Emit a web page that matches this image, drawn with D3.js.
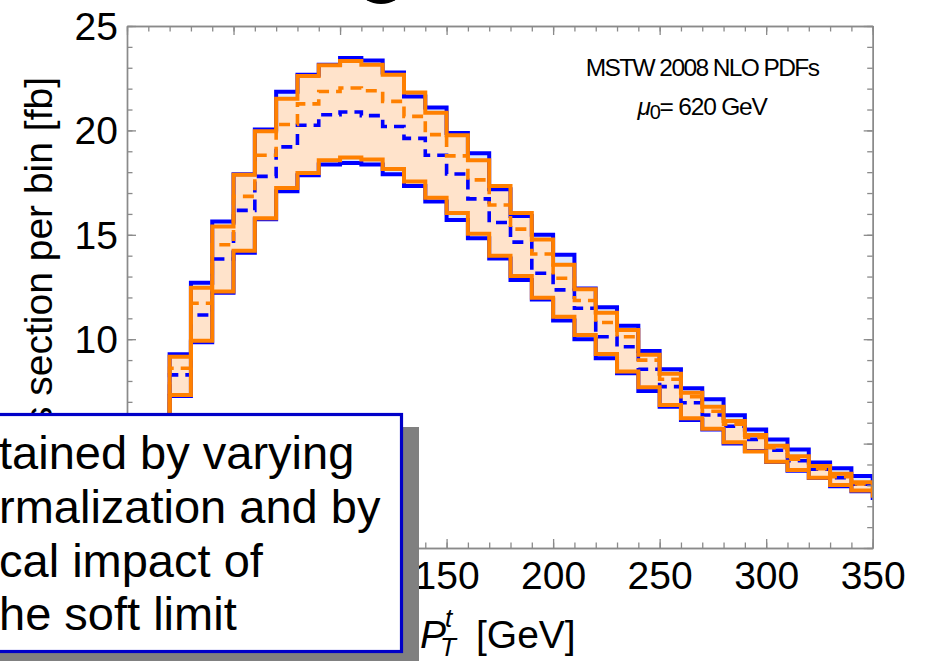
<!DOCTYPE html>
<html>
<head>
<meta charset="utf-8">
<script src="https://cdn.jsdelivr.net/npm/d3@7"></script>
<style>
  body { margin: 0; background: #fff; }
  svg { display: block; font-family: "Liberation Sans", Arial, sans-serif; }
</style>
</head>
<body>
<div id="chart"></div>
<script>
var svgWidth = 929;
var svgHeight = 661;

// plot frame in page pixels
var frame = { left: 127, right: 872.7, top: 26, bottom: 548 };

// lower bin edges [GeV], 10 GeV wide
var binEdges = d3.range(0, 360, 10);

// blue band (upper / central / lower)
var blueUpper = [1.9, 5.6, 9.28, 12.7, 15.64, 17.9, 20.04, 21.85, 22.67, 23.15, 23.47, 23.35, 22.77, 21.62, 21.1, 19.88, 18.91, 17.18,
    15.9, 15.0, 14.04, 12.43, 11.53, 10.64, 9.44, 8.56, 7.65, 7.12, 6.36, 5.67, 5.2, 4.72, 4.09, 3.82, 3.45, 3.1];
var blueCentral = [1.6, 5.0, 8.29, 11.16, 13.84, 16.17, 17.8, 19.21, 20.25, 20.75, 20.88, 20.71, 20.19, 19.62, 18.81, 17.91, 16.72, 15.59,
    14.65, 13.16, 12.36, 11.48, 10.12, 9.64, 8.56, 7.73, 6.96, 6.37, 5.83, 5.2, 4.68, 4.18, 3.77, 3.37, 3.05, 2.7];
var blueLower = [1.4, 4.7, 7.28, 9.85, 12.22, 14.14, 15.75, 17.08, 17.85, 18.37, 18.44, 18.37, 17.9, 17.34, 16.6, 15.71, 14.84, 13.86,
    12.84, 11.9, 10.89, 10.0, 9.09, 8.37, 7.52, 6.77, 6.13, 5.68, 5.0, 4.65, 4.12, 3.7, 3.35, 2.96, 2.72, 2.4];

// orange band (upper / central / lower)
var orangeUpper = [1.8, 5.5, 9.16, 12.47, 15.4, 17.88, 19.96, 21.52, 22.6, 23.12, 23.32, 23.14, 22.66, 21.81, 20.85, 19.77, 18.57, 17.34,
    16.04, 14.78, 13.56, 12.39, 11.27, 10.44, 9.25, 8.34, 7.44, 6.76, 6.08, 5.41, 4.9, 4.4, 3.93, 3.56, 3.15, 2.9];
var orangeCentral = [1.7, 5.2, 8.61, 11.72, 14.52, 16.84, 18.81, 20.28, 21.27, 21.86, 22.03, 21.9, 21.39, 20.67, 19.8, 18.78, 17.63, 16.43,
    15.27, 14.08, 12.92, 11.85, 10.8, 10.12, 9.0, 8.08, 7.25, 6.55, 5.93, 5.3, 4.8, 4.25, 3.8, 3.42, 3.07, 2.75];
var orangeLower = [1.5, 4.8, 7.33, 9.93, 12.29, 14.24, 15.79, 17.24, 17.96, 18.57, 18.7, 18.61, 18.15, 17.55, 16.78, 16.05, 15.05, 14.0,
    13.03, 11.98, 11.08, 10.2, 9.29, 8.45, 7.7, 6.85, 6.21, 5.71, 5.06, 4.62, 4.13, 3.74, 3.37, 3.02, 2.75, 2.5];

var xMajorTicks = [0, 50, 100, 150, 200, 250, 300, 350];
var xTickLabels = [150, 200, 250, 300, 350];   // the rest sit under the note box
var yMajorTicks = [0, 5, 10, 15, 20, 25];
var yTickLabels = [10, 15, 20, 25];

var noteLines = ["tained by varying", "rmalization and by", "cal impact of", "he soft limit"];

var svg = d3.select("#chart")
    .append("svg")
    .attr("width", svgWidth)
    .attr("height", svgHeight);

var xScale = d3.scaleLinear().domain([0, 350]).range([frame.left, frame.right]);
var yScale = d3.scaleLinear().domain([0, 25]).range([frame.bottom, frame.top]);

svg.append("clipPath").attr("id", "plotClip")
    .append("rect")
    .attr("x", frame.left).attr("y", frame.top)
    .attr("width", frame.right - frame.left)
    .attr("height", frame.bottom - frame.top);

// step points: one per lower edge plus closing point at last upper edge
function steps(vals) {
    var pts = binEdges.map((e, i) => [e, vals[i]]);
    pts.push([binEdges[binEdges.length - 1] + 10, vals[vals.length - 1]]);
    return pts;
}
function bandPts(lo, hi) {
    var pts = binEdges.map((e, i) => ({ x: e, lo: lo[i], hi: hi[i] }));
    pts.push({ x: binEdges[binEdges.length - 1] + 10, lo: lo[lo.length - 1], hi: hi[hi.length - 1] });
    return pts;
}

var stepLine = d3.line()
    .x(d => xScale(d[0]))
    .y(d => yScale(d[1]))
    .curve(d3.curveStepAfter);

var band = d3.area()
    .x(d => xScale(d.x))
    .y0(d => yScale(d.lo))
    .y1(d => yScale(d.hi))
    .curve(d3.curveStepAfter);

var plot = svg.append("g").attr("clip-path", "url(#plotClip)");

plot.append("path").attr("d", band(bandPts(blueLower, blueUpper)))
    .attr("fill", "#dae8ff");
plot.append("path").attr("d", band(bandPts(orangeLower, orangeUpper)))
    .attr("fill", "#ffe3cb");

var blue = "#0000ff", orange = "#ff8000";
[blueUpper, blueLower].forEach(v => {
    plot.append("path").attr("d", stepLine(steps(v)))
        .attr("fill", "none").attr("stroke", blue).attr("stroke-width", 4);
});
plot.append("path").attr("d", stepLine(steps(blueCentral)))
    .attr("fill", "none").attr("stroke", blue).attr("stroke-width", 3.6)
    .attr("stroke-dasharray", "11,7");
[orangeUpper, orangeLower].forEach(v => {
    plot.append("path").attr("d", stepLine(steps(v)))
        .attr("fill", "none").attr("stroke", orange).attr("stroke-width", 4);
});
plot.append("path").attr("d", stepLine(steps(orangeCentral)))
    .attr("fill", "none").attr("stroke", orange).attr("stroke-width", 3.6)
    .attr("stroke-dasharray", "11,7");

// axes, ticks pointing inward on all four sides
function styleAxis(g) {
    g.selectAll("path.domain").attr("stroke", "#8a8a8a").attr("stroke-width", 1.4);
    g.selectAll(".tick line").attr("stroke", "#8a8a8a").attr("stroke-width", 1.3);
    g.selectAll(".tick text").attr("fill", "#000").attr("font-size", 39)
        .attr("font-family", "Liberation Sans, Arial, sans-serif");
}
var xMinor = d3.range(0, 351, 10);
var yMinor = d3.range(0, 26, 1);
var xLab = d => xTickLabels.includes(d) ? d3.format("d")(d) : "";
var yLab = d => yTickLabels.includes(d) ? d3.format("d")(d) : "";

svg.append("g").attr("transform", `translate(0,${frame.bottom})`)
    .call(d3.axisBottom(xScale).tickValues(xMinor).tickSize(-5.5).tickSizeOuter(0).tickFormat(""))
    .call(styleAxis);
svg.append("g").attr("transform", `translate(0,${frame.bottom})`)
    .call(d3.axisBottom(xScale).tickValues(xMajorTicks).tickSize(-9).tickSizeOuter(0).tickPadding(13).tickFormat(xLab))
    .call(styleAxis);
svg.append("g").attr("transform", `translate(0,${frame.top})`)
    .call(d3.axisTop(xScale).tickValues(xMinor).tickSize(-5.5).tickSizeOuter(0).tickFormat(""))
    .call(styleAxis);
svg.append("g").attr("transform", `translate(0,${frame.top})`)
    .call(d3.axisTop(xScale).tickValues(xMajorTicks).tickSize(-9).tickSizeOuter(0).tickFormat(""))
    .call(styleAxis);
svg.append("g").attr("transform", `translate(${frame.left},0)`)
    .call(d3.axisLeft(yScale).tickValues(yMinor).tickSize(-5.5).tickSizeOuter(0).tickFormat(""))
    .call(styleAxis);
svg.append("g").attr("transform", `translate(${frame.left},0)`)
    .call(d3.axisLeft(yScale).tickValues(yMajorTicks).tickSize(-9).tickSizeOuter(0).tickPadding(9).tickFormat(yLab))
    .call(styleAxis)
    .selectAll(".tick text").attr("dy", "0.34em");
svg.append("g").attr("transform", `translate(${frame.right},0)`)
    .call(d3.axisRight(yScale).tickValues(yMinor).tickSize(-5.5).tickSizeOuter(0).tickFormat(""))
    .call(styleAxis);
svg.append("g").attr("transform", `translate(${frame.right},0)`)
    .call(d3.axisRight(yScale).tickValues(yMajorTicks).tickSize(-9).tickSizeOuter(0).tickFormat(""))
    .call(styleAxis);

// axis titles
svg.append("text")
    .attr("transform", "translate(52,77) rotate(-90)")
    .attr("text-anchor", "end")
    .attr("font-size", 39)
    .text("Cross section per bin [fb]");

var xt = svg.append("g").attr("font-size", 39);
xt.append("text").attr("x", 420).attr("y", 648).attr("font-style", "italic").text("P");
xt.append("text").attr("x", 445).attr("y", 627).attr("font-style", "italic").attr("font-size", 26).text("t");
xt.append("text").attr("x", 440).attr("y", 656).attr("font-style", "italic").attr("font-size", 26).text("T");
xt.append("text").attr("x", 476).attr("y", 648).text("[GeV]");

// in-plot annotation
svg.append("text")
    .attr("x", 702).attr("y", 76)
    .attr("text-anchor", "middle")
    .attr("font-size", 24.5)
    .attr("letter-spacing", -1.6)
    .text("MSTW 2008 NLO PDFs");
var mu = svg.append("text")
    .attr("x", 702).attr("y", 115)
    .attr("text-anchor", "middle")
    .attr("font-size", 24.5)
    .attr("letter-spacing", -1.2);
mu.append("tspan").attr("font-style", "italic").text("\u03bc");
mu.append("tspan").attr("font-size", 20).attr("dy", 4).text("0");
mu.append("tspan").attr("dy", -4).text("= 620 GeV");

// dark blob at top edge (bottom of a cut-off mark)
svg.append("ellipse")
    .attr("cx", 381).attr("cy", -9)
    .attr("rx", 20).attr("ry", 13)
    .attr("fill", "#000");

// overlay note box with drop shadow
svg.append("rect")
    .attr("x", -20).attr("y", 427)
    .attr("width", 439).attr("height", 260)
    .attr("fill", "#808080");
svg.append("rect")
    .attr("x", -20).attr("y", 414.5)
    .attr("width", 421.5).attr("height", 237)
    .attr("fill", "#fff")
    .attr("stroke", "#0000c8")
    .attr("stroke-width", 3.2);

var noteBaselines = [469, 523, 577, 630];
svg.append("g").attr("font-size", 47)
    .selectAll("text")
    .data(noteLines)
    .join("text")
    .attr("x", -1)
    .attr("y", (d, i) => noteBaselines[i])
    .text(d => d);
</script>
</body>
</html>
